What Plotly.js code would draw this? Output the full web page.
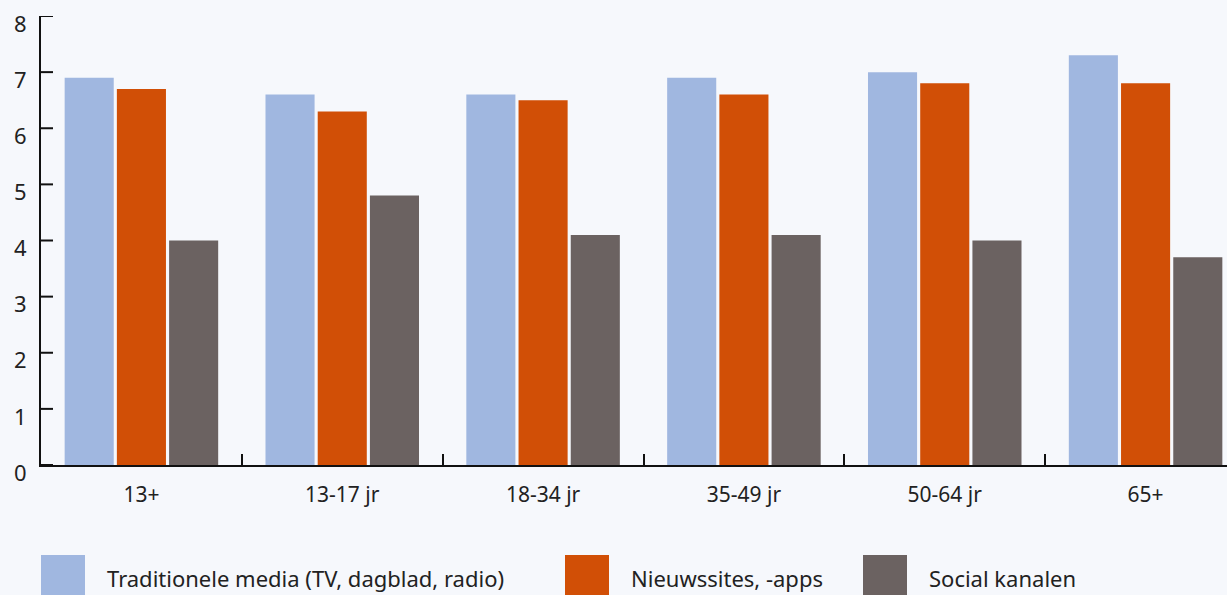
<!DOCTYPE html>
<html>
<head>
<meta charset="utf-8">
<script src="https://cdn.plot.ly/plotly-3.0.1.min.js"></script>
<style>
  html, body { margin: 0; padding: 0; overflow: hidden; background: #f6f8fc; }
  #chart { width: 1260px; height: 595px; }
</style>
</head>
<body>
<div id="chart"></div>
<script>
// Age groups along the x axis
const ageGroups = ['13+', '13-17 jr', '18-34 jr', '35-49 jr', '50-64 jr', '65+'];

// Series names and scores per age group
const seriesNames = ['Traditionele media (TV, dagblad, radio)', 'Nieuwssites, -apps', 'Social kanalen'];
const traditioneel = [6.9, 6.6, 6.6, 6.9, 7.0, 7.3];
const nieuwssites  = [6.7, 6.3, 6.5, 6.6, 6.8, 6.8];
const sociaal      = [4.0, 4.8, 4.1, 4.1, 4.0, 3.7];

const yTicks = [0, 1, 2, 3, 4, 5, 6, 7, 8];

const colors = ['#a0b7e0', '#d14f06', '#6b6261'];
const seriesValues = [traditioneel, nieuwssites, sociaal];

const textColor = '#222222';
const axisColor = '#111111';
const fontFamily = '"Noto Sans", "Open Sans", sans-serif';

const traces = seriesValues.map((vals, i) => ({
  type: 'bar',
  name: seriesNames[i],
  x: ageGroups,
  y: vals,
  marker: { color: colors[i], line: { width: 0 } },
  hoverinfo: 'x+y+name'
}));

// Plot area geometry in pixels (used to place the legend and tick marks)
const W = 1260, H = 595;
const margin = { l: 41, r: 14, t: 16, b: 130 };
const plotW = W - margin.l - margin.r;
const plotH = H - margin.t - margin.b;
const px2x = px => (px - margin.l) / plotW;
const py2y = py => (H - margin.b - py) / plotH;
const halfTick = 1 / plotH * 8; // one pixel in axis units (range spans 8)

const shapes = [];
const annotations = [];

// Inward-pointing tick marks on the value axis, 12px long and 2px thick
yTicks.forEach(v => {
  shapes.push({
    type: 'rect', xref: 'paper', yref: 'y', layer: 'above',
    x0: 0, x1: px2x(margin.l + 12), y0: v - halfTick, y1: v + halfTick,
    fillcolor: axisColor, line: { width: 0 }
  });
});

// Legend: coloured squares with labels beneath the plot
const legendX = [41, 565, 863];
seriesNames.forEach((name, i) => {
  shapes.push({
    type: 'rect', xref: 'paper', yref: 'paper',
    x0: px2x(legendX[i]), x1: px2x(legendX[i] + 44),
    y0: py2y(600), y1: py2y(555),
    fillcolor: colors[i], line: { width: 0 }
  });
  annotations.push({
    xref: 'paper', yref: 'paper',
    x: px2x(legendX[i] + 64), y: py2y(578),
    xanchor: 'left', yanchor: 'middle',
    text: name, showarrow: false,
    font: { family: fontFamily, size: 22, color: textColor }
  });
});

const layout = {
  width: W, height: H,
  margin: margin,
  paper_bgcolor: '#f6f8fc',
  plot_bgcolor: '#f6f8fc',
  showlegend: false,
  barmode: 'group',
  bargap: 0.22,
  bargroupgap: 0.06,
  font: { family: fontFamily, size: 22, color: textColor },
  xaxis: {
    type: 'category',
    showline: true, linecolor: axisColor, linewidth: 2,
    ticks: 'inside', tickson: 'boundaries', ticklen: 11, tickwidth: 2, tickcolor: axisColor,
    showgrid: false, zeroline: false,
    tickfont: { family: fontFamily, size: 21, color: textColor },
    ticklabelstandoff: 10,
    fixedrange: true
  },
  yaxis: {
    range: [0, 8],
    tickmode: 'linear', tick0: 0, dtick: 1,
    showline: true, linecolor: axisColor, linewidth: 2,
    ticks: '',
    showgrid: false, zeroline: false,
    tickfont: { family: fontFamily, size: 22, color: textColor },
    ticklabelstandoff: 8,
    ticklabelshift: 8,
    fixedrange: true
  },
  shapes: shapes,
  annotations: annotations
};

Plotly.newPlot('chart', traces, layout, { displayModeBar: false, staticPlot: true });
</script>
</body>
</html>
